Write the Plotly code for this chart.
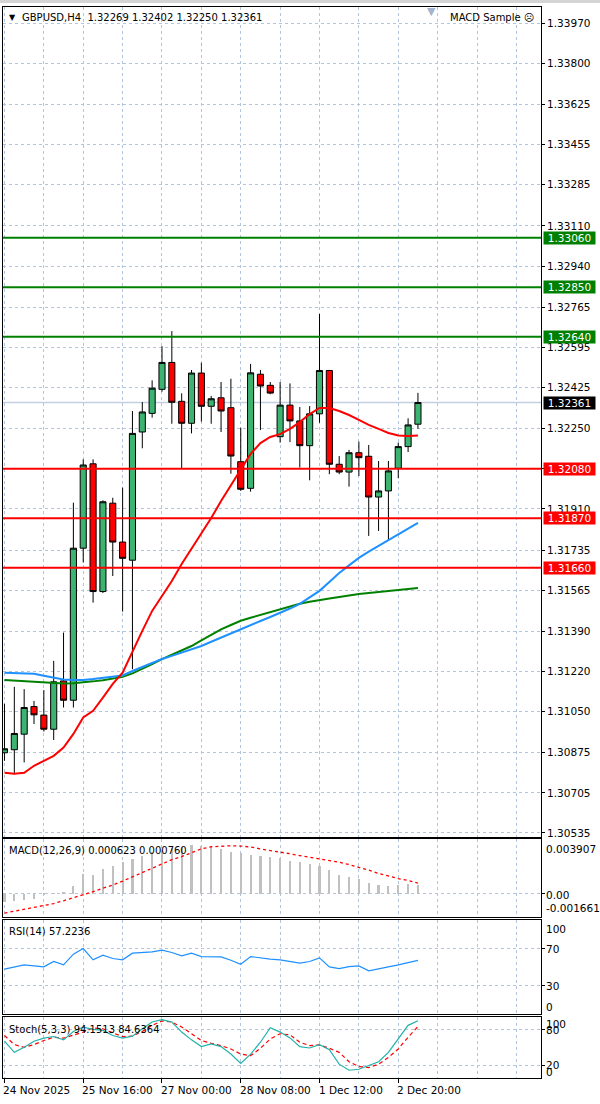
import plotly.graph_objects as go

# ---------------- data ----------------
bar_index = list(range(43))
time_labels = ["24 Nov 2025", "25 Nov 16:00", "27 Nov 00:00", "28 Nov 08:00", "1 Dec 12:00", "2 Dec 20:00"]
time_label_bars = [0, 8, 16, 24, 32, 40]

opens = [1.30875, 1.30888, 1.30954, 1.31071, 1.31035, 1.30975, 1.31180, 1.31098, 1.31743, 1.32101,
         1.31559, 1.31934, 1.31769, 1.31692, 1.32236, 1.32315, 1.32417, 1.32531, 1.32366, 1.32273,
         1.32486, 1.32345, 1.32381, 1.32339, 1.32110, 1.31997, 1.32481, 1.32434, 1.32216, 1.32350,
         1.32283, 1.32178, 1.32313, 1.32497, 1.32099, 1.32066, 1.32148, 1.32133, 1.31960, 1.31986,
         1.32082, 1.32174, 1.32269]
highs = [1.31083, 1.31155, 1.31145, 1.31095, 1.31141, 1.31265, 1.31385, 1.31936, 1.32120, 1.32120,
         1.31946, 1.31957, 1.32000, 1.32325, 1.32363, 1.32455, 1.32600, 1.32664, 1.32400, 1.32499,
         1.32530, 1.32389, 1.32448, 1.32462, 1.32254, 1.32525, 1.32499, 1.32448, 1.32448, 1.32442,
         1.32342, 1.32346, 1.32737, 1.32497, 1.32134, 1.32160, 1.32195, 1.32181, 1.32113, 1.32113,
         1.32191, 1.32294, 1.32402]
lows = [1.30841, 1.30784, 1.30834, 1.30997, 1.30965, 1.30929, 1.31067, 1.31067, 1.31682, 1.31512,
        1.31553, 1.31625, 1.31474, 1.31230, 1.32167, 1.32297, 1.32407, 1.32271, 1.32082, 1.32230,
        1.32280, 1.32271, 1.32236, 1.32059, 1.31986, 1.31983, 1.32244, 1.32396, 1.32191, 1.32193,
        1.32085, 1.32031, 1.32275, 1.32057, 1.32057, 1.32004, 1.32049, 1.31795, 1.31816, 1.31774,
        1.32040, 1.32151, 1.32250]
closes = [1.30892, 1.30957, 1.31067, 1.31036, 1.30975, 1.31176, 1.31098, 1.31743, 1.32096, 1.31559,
          1.31940, 1.31769, 1.31700, 1.32230, 1.32321, 1.32422, 1.32531, 1.32362, 1.32273, 1.32486,
          1.32345, 1.32377, 1.32325, 1.32134, 1.31993, 1.32487, 1.32431, 1.32401, 1.32350, 1.32283,
          1.32178, 1.32313, 1.32497, 1.32099, 1.32066, 1.32148, 1.32127, 1.31960, 1.31986, 1.32071,
          1.32174, 1.32266, 1.32361]

ma_red = [1.30790, 1.30786, 1.30790, 1.30820, 1.30841, 1.30862, 1.30897, 1.30955, 1.31025, 1.31053,
          1.31109, 1.31167, 1.31215, 1.31307, 1.31392, 1.31477, 1.31541, 1.31604, 1.31676, 1.31740,
          1.31803, 1.31871, 1.31943, 1.32011, 1.32079, 1.32143, 1.32189, 1.32215, 1.32227, 1.32249,
          1.32278, 1.32312, 1.32338, 1.32338, 1.32325, 1.32308, 1.32287, 1.32266, 1.32249, 1.32232,
          1.32221, 1.32219, 1.32221]
ma_blue = [1.31215, 1.31213, 1.31212, 1.31210, 1.31202, 1.31194, 1.31186, 1.31184, 1.31184, 1.31188,
           1.31193, 1.31197, 1.31203, 1.31222, 1.31240, 1.31258, 1.31273, 1.31286, 1.31300, 1.31314,
           1.31328, 1.31346, 1.31364, 1.31383, 1.31401, 1.31418, 1.31434, 1.31451, 1.31468, 1.31487,
           1.31507, 1.31533, 1.31562, 1.31600, 1.31638, 1.31670, 1.31702, 1.31728, 1.31753, 1.31778,
           1.31803, 1.31827, 1.31850]
ma_green = [1.31184, 1.31181, 1.31178, 1.31176, 1.31173, 1.31171, 1.31169, 1.31170, 1.31173, 1.31178,
            1.31183, 1.31190, 1.31197, 1.31212, 1.31230, 1.31251, 1.31272, 1.31291, 1.31310, 1.31328,
            1.31352, 1.31376, 1.31399, 1.31417, 1.31435, 1.31448, 1.31460, 1.31473, 1.31485, 1.31496,
            1.31507, 1.31516, 1.31524, 1.31530, 1.31536, 1.31543, 1.31549, 1.31553, 1.31557, 1.31562,
            1.31566, 1.31570, 1.31574]

macd_main = [-0.00055, -0.00050, -0.00045, -0.00035, -0.00005, 0.00005, 0.00015, 0.00055, 0.00140, 0.00135,
             0.00180, 0.00195, 0.00230, 0.00245, 0.00270, 0.00295, 0.00315, 0.00325, 0.00335, 0.00345,
             0.00342, 0.00332, 0.00320, 0.00300, 0.00290, 0.00277, 0.00267, 0.00260, 0.00253, 0.00236,
             0.00224, 0.00212, 0.00200, 0.00170, 0.00136, 0.00122, 0.00105, 0.00077, 0.00062, 0.00058,
             0.00060, 0.00071, 0.000623]
macd_signal = [-0.00138, -0.00125, -0.00112, -0.00100, -0.00085, -0.00070, -0.00050, -0.00030, -0.00008, 0.00015,
               0.00040, 0.00062, 0.00090, 0.00120, 0.00152, 0.00183, 0.00214, 0.00243, 0.00265, 0.00295,
               0.00320, 0.00335, 0.00340, 0.00342, 0.00340, 0.00333, 0.00320, 0.00310, 0.00298, 0.00285,
               0.00272, 0.00260, 0.00250, 0.00238, 0.00225, 0.00208, 0.00190, 0.00168, 0.00145, 0.00125,
               0.00108, 0.00095, 0.000760]

rsi = [47.9, 50.4, 52.5, 51.4, 50.4, 56.1, 52.5, 63.9, 70.0, 57.9,
       62.9, 59.3, 57.9, 65.0, 65.7, 66.4, 68.2, 65.7, 62.1, 65.0,
       61.4, 61.4, 61.0, 57.5, 53.2, 61.4, 59.6, 58.6, 57.9, 56.1,
       54.3, 56.1, 60.0, 50.4, 48.6, 50.7, 51.4, 46.1, 47.9, 50.4,
       52.5, 55.0, 57.2236]

stoch_k = [60.6, 42.2, 50.6, 60.6, 65.6, 68.3, 62.8, 76.7, 83.9, 80.0,
           78.3, 70.0, 65.6, 68.9, 81.1, 92.2, 96.1, 92.2, 75.6, 62.8,
           51.7, 56.1, 51.7, 39.4, 23.9, 39.4, 58.9, 82.8, 75.6, 66.1,
           51.7, 49.4, 55.0, 46.7, 22.8, 12.8, 14.4, 21.1, 26.7, 42.2,
           64.4, 86.7, 94.1513]
stoch_d = [70.0, 55.0, 50.6, 55.0, 61.7, 67.2, 65.6, 70.0, 75.6, 82.2,
           81.1, 74.4, 68.3, 68.9, 76.7, 86.7, 93.9, 92.2, 83.9, 72.8,
           61.7, 57.2, 53.3, 47.8, 39.4, 36.7, 48.9, 64.4, 72.8, 71.1,
           58.9, 53.3, 54.4, 48.9, 42.2, 26.7, 18.9, 17.2, 22.8, 33.9,
           47.8, 67.2, 84.6364]

resistance_levels = [1.33060, 1.32850, 1.32640]
support_levels = [1.32080, 1.31870, 1.31660]
bid_price = 1.32361

price_ticks = [1.33970, 1.33800, 1.33625, 1.33455, 1.33285, 1.33110, 1.32940, 1.32765, 1.32595,
               1.32425, 1.32250, 1.32080, 1.31910, 1.31735, 1.31565, 1.31390, 1.31220, 1.31050,
               1.30875, 1.30705, 1.30535]
price_range = [1.30519, 1.34039]
macd_range = [-0.001661, 0.003907]

# ---------------- style ----------------
FONT = "DejaVu Sans"
GRID = "#b3c5dc"
DASH = "3px,3px"
GREEN_BODY = "#3cb371"

fig = go.Figure()

fig.add_trace(go.Candlestick(
    x=bar_index, open=opens, high=highs, low=lows, close=closes,
    increasing=dict(fillcolor=GREEN_BODY, line=dict(color="#000000", width=1)),
    decreasing=dict(fillcolor="#ff0000", line=dict(color="#000000", width=1)),
    xaxis="x", yaxis="y", hoverinfo="skip"))

fig.add_trace(go.Scatter(x=bar_index, y=ma_green, mode="lines",
                         line=dict(color="#008000", width=2), xaxis="x", yaxis="y"))
fig.add_trace(go.Scatter(x=bar_index, y=ma_blue, mode="lines",
                         line=dict(color="#1e90ff", width=2), xaxis="x", yaxis="y"))
fig.add_trace(go.Scatter(x=bar_index, y=ma_red, mode="lines",
                         line=dict(color="#ff0000", width=2), xaxis="x", yaxis="y"))

fig.add_trace(go.Bar(x=bar_index, y=macd_main, width=0.22, marker=dict(color="#c0c0c0", line=dict(width=0)),
                     xaxis="x2", yaxis="y2"))
fig.add_trace(go.Scatter(x=bar_index, y=macd_signal, mode="lines",
                         line=dict(color="#ff0000", width=1.3, dash="3px,3px"), xaxis="x2", yaxis="y2"))

fig.add_trace(go.Scatter(x=bar_index, y=rsi, mode="lines",
                         line=dict(color="#1e90ff", width=1.2), xaxis="x3", yaxis="y3"))

fig.add_trace(go.Scatter(x=bar_index, y=stoch_d, mode="lines",
                         line=dict(color="#ff0000", width=1.2, dash="4px,3px"), xaxis="x4", yaxis="y4"))
fig.add_trace(go.Scatter(x=bar_index, y=stoch_k, mode="lines",
                         line=dict(color="#20b2aa", width=1.2), xaxis="x4", yaxis="y4"))

xcommon = dict(range=[-0.15, 54.5], showline=True, linecolor="#000000", linewidth=1, mirror=True,
               zeroline=False, showgrid=True, gridcolor=GRID, griddash=DASH, gridwidth=1,
               showticklabels=False, fixedrange=True)
ycommon = dict(side="right", showline=True, linecolor="#000000", linewidth=1, mirror=True,
               zeroline=False, showgrid=True, gridcolor=GRID, griddash=DASH, gridwidth=1,
               ticks="outside", ticklen=3, tickcolor="#000000", fixedrange=True,
               tickfont=dict(family=FONT, size=10.5, color="#000000"))

layout = dict(
    width=600, height=1104,
    margin=dict(l=3, r=59, t=7, b=26),
    paper_bgcolor="#ffffff", plot_bgcolor="#ffffff",
    showlegend=False, boxgap=0.38, boxgroupgap=0, bargap=0,
    font=dict(family=FONT, size=10.5, color="#000000"),
    xaxis=dict(**xcommon, anchor="y", tickmode="linear", tick0=0, dtick=4, ticks="",
               rangeslider=dict(visible=False)),
    xaxis2=dict(**xcommon, anchor="y2", matches="x", tickmode="linear", tick0=0, dtick=4, ticks=""),
    xaxis3=dict(**xcommon, anchor="y3", matches="x", tickmode="linear", tick0=0, dtick=4, ticks=""),
    xaxis4=dict(**xcommon, anchor="y4", matches="x", tickmode="array", tickvals=time_label_bars,
                ticks="outside", ticklen=4, tickcolor="#000000",
                minor=dict(tickmode="linear", tick0=0, dtick=4, showgrid=True, gridcolor=GRID,
                           griddash=DASH, ticks="")),
    yaxis=dict(**ycommon, anchor="x", domain=[0.2253, 1.0], range=price_range,
               tickmode="array", tickvals=price_ticks, ticktext=[f"{v:.5f}" for v in price_ticks]),
    yaxis2=dict(**ycommon, anchor="x2", domain=[0.1503, 0.2232], range=macd_range,
                tickmode="array", tickvals=[0], showticklabels=False),
    yaxis3=dict(**ycommon, anchor="x3", domain=[0.0598, 0.1471], range=[0, 100],
                tickmode="array", tickvals=[30, 70], showticklabels=False),
    yaxis4=dict(**ycommon, anchor="x4", domain=[0.0, 0.0567], range=[0, 100],
                tickmode="array", tickvals=[20, 80], showticklabels=False),
)
fig.update_layout(**layout)

shapes = []
# bid line
shapes.append(dict(type="line", xref="x domain", x0=0, x1=1, yref="y", y0=bid_price, y1=bid_price,
                   line=dict(color="#c3cfdf", width=1.5), layer="below"))
for lv in resistance_levels:
    shapes.append(dict(type="line", xref="x domain", x0=0, x1=1, yref="y", y0=lv, y1=lv,
                       line=dict(color="#008000", width=2), layer="above"))
for lv in support_levels:
    shapes.append(dict(type="line", xref="x domain", x0=0, x1=1, yref="y", y0=lv, y1=lv,
                       line=dict(color="#ff0000", width=2), layer="above"))
# window frame band at top
shapes.append(dict(type="rect", xref="paper", x0=-0.02, x1=1.12, yref="paper", y0=1.0037, y1=1.0075,
                   fillcolor="#d4d4d4", line=dict(width=0), layer="above"))
fig.update_layout(shapes=shapes)

ann = []
def box_label(value, bg, fg="#ffffff"):
    return dict(xref="paper", x=1, xanchor="left", xshift=2, yref="y", y=value, yanchor="middle",
                text=f"{value:.5f}", showarrow=False, font=dict(family=FONT, size=10.5, color=fg),
                bgcolor=bg, width=51, height=12, borderpad=0, align="center")

for lv in resistance_levels:
    ann.append(box_label(lv, "#008000"))
for lv in support_levels:
    ann.append(box_label(lv, "#ff0000"))
ann.append(box_label(bid_price, "#000000"))

def side_label(text, yref, y, yshift=0):
    return dict(xref="paper", x=1, xanchor="left", xshift=3, yref=yref, y=y, yanchor="middle",
                yshift=yshift, text=text, showarrow=False, font=dict(family=FONT, size=10.5, color="#000000"))

ann += [
    side_label(f"{macd_range[1]:.6f}", "y2", macd_range[1], -10),
    side_label("0.00", "y2", 0, -1),
    side_label(f"{macd_range[0]:.6f}", "y2", macd_range[0], 9),
    side_label("100", "y3", 100, -9),
    side_label("70", "y3", 70),
    side_label("30", "y3", 30),
    side_label("0", "y3", 0, 7),
    side_label("100", "y4", 100, -7),
    side_label("80", "y4", 80, -1),
    side_label("20", "y4", 20, 1),
    side_label("0", "y4", 0, 6),
]

for b, t in zip(time_label_bars, time_labels):
    ann.append(dict(xref="x4", x=b, xanchor="left", xshift=-3, yref="paper", y=0, yanchor="top",
                    yshift=-4, text=t, showarrow=False, font=dict(family=FONT, size=10.5, color="#000000")))

def header(text, yref_top, yshift, xshift=4, size=10):
    return dict(xref="paper", x=0, xanchor="left", xshift=xshift, yref="paper", y=yref_top,
                yanchor="middle", yshift=yshift, text=text, showarrow=False,
                font=dict(family=FONT, size=size, color="#000000"))

ann += [
    header("▼", 1.0, -10, xshift=4, size=8),
    header(f"GBPUSD,H4  {opens[-1]:.5f} {highs[-1]:.5f} {lows[-1]:.5f} {closes[-1]:.5f}", 1.0, -10, xshift=17),
    header(f"MACD(12,26,9) {macd_main[-1]:.6f} {macd_signal[-1]:.6f}", 0.2232, -12),
    header(f"RSI(14) {rsi[-1]:.4f}", 0.1471, -11),
    header(f"Stoch(5,3,3) {stoch_k[-1]:.4f} {stoch_d[-1]:.4f}", 0.0567, -12),
    dict(xref="paper", x=1, xanchor="right", xshift=-5, yref="paper", y=1.0, yanchor="middle", yshift=-10,
         text="MACD Sample ☹", showarrow=False, font=dict(family=FONT, size=10, color="#000000")),
    dict(xref="x", x=43.4, xanchor="center", yref="paper", y=1.0, yanchor="top", yshift=4,
         text="▼", showarrow=False, font=dict(family=FONT, size=11, color="#a3b5cc")),
]
fig.update_layout(annotations=ann)

fig.write_html("out.html", config={"displayModeBar": False},
               post_script="document.body.style.margin='0';document.body.style.padding='0';")
